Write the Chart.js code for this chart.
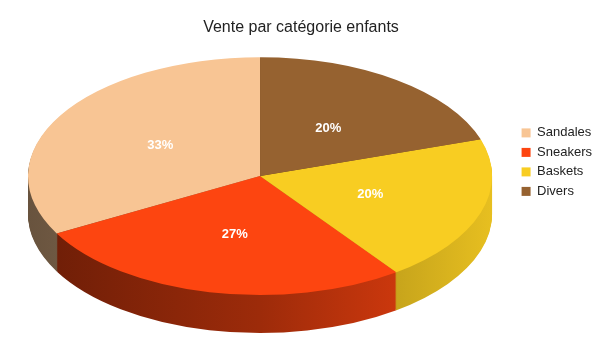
<!DOCTYPE html>
<html>
<head>
<meta charset="utf-8">
<script src="https://cdn.jsdelivr.net/npm/chart.js@4/dist/chart.umd.min.js"></script>
<style>
    body { margin: 0; background: #fff; }
    #wrap { width: 604px; height: 340px; }
</style>
</head>
<body>
<div id="wrap"><canvas id="chart"></canvas></div>
<script>
/* Vente par catégorie enfants - 3D pie look */

const categories = ["Sandales", "Sneakers", "Baskets", "Divers"];
const shares = [33, 27, 20, 20];
const colors = ["#f8c594", "#fd4510", "#f8cd22", "#966230"];

const FONT = "'Liberation Sans', Arial, sans-serif";

/* darken a hex colour by factor f (0..1) */
function shade(hex, f) {
    const n = parseInt(hex.slice(1), 16);
    const r = Math.round(((n >> 16) & 255) * f);
    const g = Math.round(((n >> 8) & 255) * f);
    const b = Math.round((n & 255) * f);
    return "rgb(" + r + "," + g + "," + b + ")";
}

/* where the flattened pie goes, taken from the chart area */
function geometry(chart, opts) {
    const area = chart.chartArea;
    const arc = chart.getDatasetMeta(0).data[0];
    const rx = (area.right - area.left - opts.gapLeft - opts.gapRight) / 2;
    const ry = (area.bottom - area.top - opts.depth) / 2;
    return {
        cx: area.left + opts.gapLeft + rx, cy: area.top + ry, rx: rx, ry: ry,
        r: arc.outerRadius, ox: arc.x, oy: arc.y, depth: opts.depth
    };
}

/* mirrored so slices run counter clockwise, squashed into an ellipse */
function applyTransform(ctx, g, d) {
    ctx.translate(g.cx, g.cy + d);
    ctx.scale(-g.rx / g.r, g.ry / g.r);
    ctx.translate(-g.ox, -g.oy);
}

const pie3d = {
    id: "pie3d",
    beforeDatasetsDraw(chart, args, opts) {
        const ctx = chart.ctx;
        const meta = chart.getDatasetMeta(0);
        const g = geometry(chart, opts);

        // side wall: the slices stacked downwards, shaded left to right
        const sides = meta.data.map((arc, i) => {
            const grad = ctx.createLinearGradient(g.ox + g.r, 0, g.ox - g.r, 0);
            grad.addColorStop(0, shade(colors[i], 0.42));
            grad.addColorStop(0.5, shade(colors[i], 0.62));
            grad.addColorStop(1, shade(colors[i], 0.93));
            return Object.assign({}, arc.options, { backgroundColor: grad, borderWidth: 0 });
        });
        for (let d = g.depth; d > 0; d--) {
            ctx.save();
            applyTransform(ctx, g, d);
            meta.data.forEach((arc, i) => {
                const saved = arc.options;
                arc.options = sides[i];
                arc.draw(ctx);
                arc.options = saved;
            });
            ctx.restore();
        }

        // top face is drawn by Chart.js inside this transform
        ctx.save();
        applyTransform(ctx, g, 0);
    },
    afterDatasetsDraw(chart, args, opts) {
        const ctx = chart.ctx;
        ctx.restore();

        const meta = chart.getDatasetMeta(0);
        const g = geometry(chart, opts);
        const values = chart.data.datasets[0].data;
        const total = values.reduce((a, b) => a + b, 0);

        ctx.save();
        ctx.fillStyle = "#fff";
        ctx.font = "bold 13px " + FONT;
        ctx.textAlign = "center";
        ctx.textBaseline = "middle";
        meta.data.forEach((arc, i) => {
            const p = arc.tooltipPosition();
            const x = g.cx - (p.x - g.ox) * g.rx / g.r;
            const y = g.cy + (p.y - g.oy) * g.ry / g.r;
            ctx.fillText(Math.round(values[i] / total * 100) + "%", x, y);
        });
        ctx.restore();
    }
};

window.addEventListener("load", () => {
    new Chart(document.getElementById("chart"), {
        type: "pie",
        data: {
            labels: categories,
            datasets: [{
                data: shares,
                backgroundColor: colors,
                borderWidth: 0,
                clip: false,
            }],
        },
        options: {
            responsive: true,
            maintainAspectRatio: false,
            animation: false,
            events: [],
            layout: { padding: { left: 0, right: 2, top: 0, bottom: 7 } },
            plugins: {
                pie3d: { depth: 38, gapLeft: 28, gapRight: 23 },
                title: {
                    display: true,
                    text: "Vente par catégorie enfants",
                    color: "#222",
                    font: { family: FONT, size: 16, weight: "normal" },
                    padding: { top: 18, bottom: 20 },
                },
                legend: {
                    position: "right",
                    align: "start",
                    // empty legend title used as spacer to push the items down
                    title: { display: true, text: " ", padding: { top: 105.5, bottom: 0 } },
                    labels: {
                        boxWidth: 9,
                        boxHeight: 9,
                        padding: 6.5,
                        color: "#222",
                        font: { family: FONT, size: 13 },
                    },
                },
                tooltip: { enabled: false },
            },
        },
        plugins: [pie3d],
    });
});
</script>
</body>
</html>
